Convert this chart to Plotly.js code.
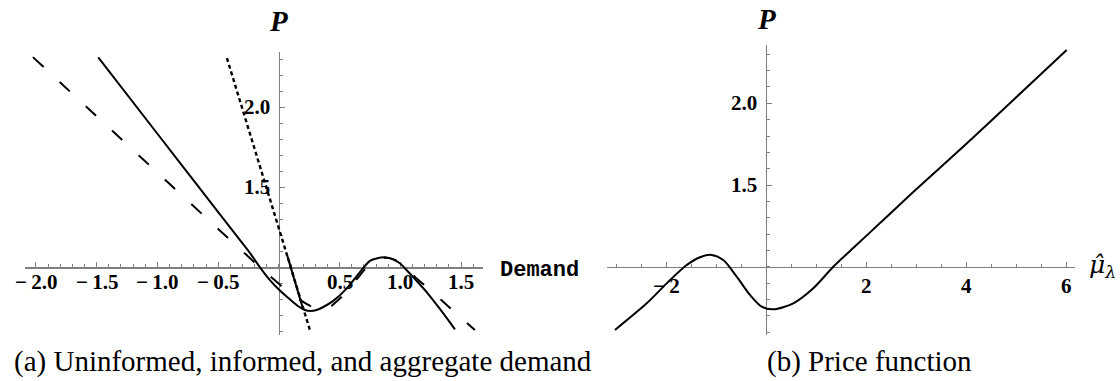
<!DOCTYPE html>
<html>
<head>
<meta charset="utf-8">
<script src="https://cdn.plot.ly/plotly-3.0.1.min.js"></script>
<style>
html,body{margin:0;padding:0;background:#fff;}
#chart{width:1120px;height:381px;}
</style>
</head>
<body>
<div id="chart"></div>
<script>
// ---- Panel (a): demand curves (price P against demand) ----
const uninformedDemand = [-2.025, -1.5, -1.0, -0.5, -0.337, -0.2, -0.074, 0.077, 0.173, 0.25, 0.33, 0.393, 0.488, 0.56, 0.65, 0.75, 0.87, 0.96, 1.04, 1.12, 1.213, 1.337, 1.49, 1.613];
const uninformedPrice  = [2.314, 1.944, 1.592, 1.24, 1.127, 1.03, 0.945, 0.848, 0.796, 0.762, 0.735, 0.738, 0.795, 0.85, 0.935, 1.02, 1.06, 1.045, 1.0, 0.94, 0.879, 0.795, 0.691, 0.608];

const informedDemand = [-0.428, 0.255];
const informedPrice  = [2.308, 0.608];

const aggregateDemand = [-1.487, -1.0, -0.6, -0.362, -0.239, -0.156, -0.074, 0.008, 0.09, 0.159, 0.214, 0.26, 0.31, 0.365, 0.447, 0.557, 0.667, 0.749, 0.81, 0.872, 0.94, 0.996, 1.051, 1.13, 1.216, 1.33, 1.449];
const aggregatePrice  = [2.3125, 1.835, 1.443, 1.21, 1.09, 1.0, 0.92, 0.855, 0.80, 0.757, 0.733, 0.727, 0.733, 0.752, 0.79, 0.867, 0.97, 1.04, 1.057, 1.0625, 1.05, 1.025, 0.983, 0.918, 0.845, 0.735, 0.6125];

const shiftDemand = [0.07, 0.2];
const shiftPrice  = [1.07, 0.737];

const aTickVals = [-2.0, -1.5, -1.0, -0.5, 0.5, 1.0, 1.5];
const aTickText = ["\u2212\u20092.0", "\u2212\u20091.5", "\u2212\u20091.0", "\u2212\u20090.5", "0.5", "1.0", "1.5"];
const pTickVals = [1.5, 2.0];
const pTickText = ["1.5", "2.0"];

// ---- Panel (b): price function ----
const muHat = [-3.02, -2.386, -1.986, -1.586, -1.32, -1.086, -0.854, -0.586, -0.32, -0.086, 0.146, 0.546, 0.946, 1.346, 1.814, 2.28, 3.0, 4.014, 5.0, 6.014];
const priceFn = [0.613, 0.776, 0.898, 1.01, 1.058, 1.072, 1.041, 0.939, 0.827, 0.755, 0.739, 0.776, 0.868, 1.0, 1.134, 1.267, 1.473, 1.754, 2.036, 2.326];

const bTickVals = [-2, 2, 4, 6];
const bTickText = ["\u2212\u20092", "2", "4", "6"];

const captionA = "(a) Uninformed, informed, and aggregate demand";
const captionB = "(b) Price function";

// ---- layout geometry ----
const W = 1120, H = 381;
const fx = px => px / W;
const fy = py => (H - py) / H;

const xrA = [-2.09, 1.68], yrA = [0.577, 2.346];
const xdA = [fx(25), fx(483)], ydA = [fy(335), fy(52)];
const xrB = [-3.18, 6.18], yrB = [0.582, 2.357];
const xdB = [fx(607), fx(1075)], ydB = [fy(335), fy(45)];

const frac = (v, r, d) => d[0] + (v - r[0]) / (r[1] - r[0]) * (d[1] - d[0]);

const axisGray = '#7f7f7f';
const SERIF = 'Liberation Serif';
const labelFont = {family: SERIF, size: 21, color: '#000', weight: 'bold'};

function xAx(range, domain, yr, yd, tv, minorDt) {
  return {
    range: range, domain: domain, anchor: 'free', position: frac(1.0, yr, yd),
    showline: true, linecolor: axisGray, linewidth: 1.3, layer: 'below traces',
    showgrid: false, zeroline: false, fixedrange: true,
    tickmode: 'array', tickvals: tv, showticklabels: false,
    ticks: 'inside', ticklen: 5, tickwidth: 1, tickcolor: axisGray,
    minor: {tickmode: 'linear', tick0: 0, dtick: minorDt, ticks: 'inside', ticklen: 3, tickwidth: 1, tickcolor: axisGray, showgrid: false}
  };
}
function yAx(range, domain, xr, xd, tv) {
  return {
    range: range, domain: domain, anchor: 'free', position: frac(0, xr, xd),
    showline: true, linecolor: axisGray, linewidth: 1.3, layer: 'below traces',
    showgrid: false, zeroline: false, fixedrange: true,
    tickmode: 'array', tickvals: tv, showticklabels: false,
    ticks: 'inside', ticklen: 5, tickwidth: 1, tickcolor: axisGray,
    minor: {tickmode: 'linear', tick0: 0, dtick: 0.1, ticks: 'inside', ticklen: 3, tickwidth: 1, tickcolor: axisGray, showgrid: false}
  };
}

// tick labels as annotations anchored in data coordinates
function xLabels(vals, texts, xref, yref, shift) {
  return vals.map((v, i) => ({xref: xref, yref: yref, x: v, y: 1.0, text: texts[i],
    showarrow: false, xanchor: 'center', yanchor: 'middle', yshift: shift, font: labelFont}));
}
function yLabels(vals, texts, xref, yref) {
  return vals.map((v, i) => ({xref: xref, yref: yref, x: 0, y: v, text: texts[i],
    showarrow: false, xanchor: 'right', yanchor: 'middle', xshift: -7, font: labelFont}));
}

const traces = [
  {x: uninformedDemand, y: uninformedPrice, xaxis: 'x', yaxis: 'y', mode: 'lines',
   line: {color: '#000', width: 2, dash: '14px,22px', shape: 'spline', smoothing: 0.8}, hoverinfo: 'skip'},
  {x: informedDemand, y: informedPrice, xaxis: 'x', yaxis: 'y', mode: 'lines',
   line: {color: '#000', width: 2.4, dash: '4px,3px'}, hoverinfo: 'skip'},
  {x: aggregateDemand, y: aggregatePrice, xaxis: 'x', yaxis: 'y', mode: 'lines',
   line: {color: '#000', width: 2, shape: 'spline', smoothing: 0.8}, hoverinfo: 'skip'},
  {x: shiftDemand, y: shiftPrice, xaxis: 'x', yaxis: 'y', mode: 'lines',
   line: {color: '#000', width: 2}, hoverinfo: 'skip'},
  {x: muHat, y: priceFn, xaxis: 'x2', yaxis: 'y2', mode: 'lines',
   line: {color: '#000', width: 2, shape: 'spline', smoothing: 0.8}, hoverinfo: 'skip'}
];

const pFont = {family: SERIF, size: 29, color: '#000', weight: 'bold', style: 'italic'};

const annotations = [].concat(
  xLabels(aTickVals, aTickText, 'x', 'y', -15),
  yLabels(pTickVals, pTickText, 'x', 'y'),
  xLabels(bTickVals, bTickText, 'x2', 'y2', -19),
  yLabels(pTickVals, pTickText, 'x2', 'y2'),
  [
    {xref: 'paper', yref: 'paper', x: fx(278), y: fy(21), text: 'P', showarrow: false,
     xanchor: 'center', yanchor: 'middle', font: pFont},
    {xref: 'paper', yref: 'paper', x: fx(766), y: fy(19), text: 'P', showarrow: false,
     xanchor: 'center', yanchor: 'middle', font: pFont},
    {xref: 'paper', yref: 'paper', x: fx(498), y: fy(270), text: 'Demand', showarrow: false,
     xanchor: 'left', yanchor: 'middle', font: {family: 'Liberation Mono', size: 22, color: '#000', weight: 'bold'}},
    {xref: 'paper', yref: 'paper', x: fx(1087), y: fy(266), text: '\u03bc\u0302<sub>\u03bb</sub>', showarrow: false,
     xanchor: 'left', yanchor: 'middle', font: {family: 'DejaVu Serif', size: 25, color: '#000', style: 'italic'}},
    {xref: 'paper', yref: 'paper', x: fx(12), y: fy(361), text: captionA, showarrow: false,
     xanchor: 'left', yanchor: 'middle', font: {family: SERIF, size: 29, color: '#000'}},
    {xref: 'paper', yref: 'paper', x: fx(765), y: fy(361), text: captionB, showarrow: false,
     xanchor: 'left', yanchor: 'middle', font: {family: SERIF, size: 29, color: '#000'}}
  ]
);

const layout = {
  width: W, height: H,
  margin: {l: 0, r: 0, t: 0, b: 0, pad: 0},
  paper_bgcolor: '#fff', plot_bgcolor: 'rgba(0,0,0,0)',
  font: {family: SERIF, size: 21, color: '#000'},
  showlegend: false,
  xaxis: xAx(xrA, xdA, yrA, ydA, aTickVals, 0.1),
  yaxis: yAx(yrA, ydA, xrA, xdA, pTickVals),
  xaxis2: xAx(xrB, xdB, yrB, ydB, bTickVals, 0.5),
  yaxis2: yAx(yrB, ydB, xrB, xdB, pTickVals),
  annotations: annotations
};

Plotly.newPlot('chart', traces, layout, {staticPlot: true, displayModeBar: false});
</script>
</body>
</html>
